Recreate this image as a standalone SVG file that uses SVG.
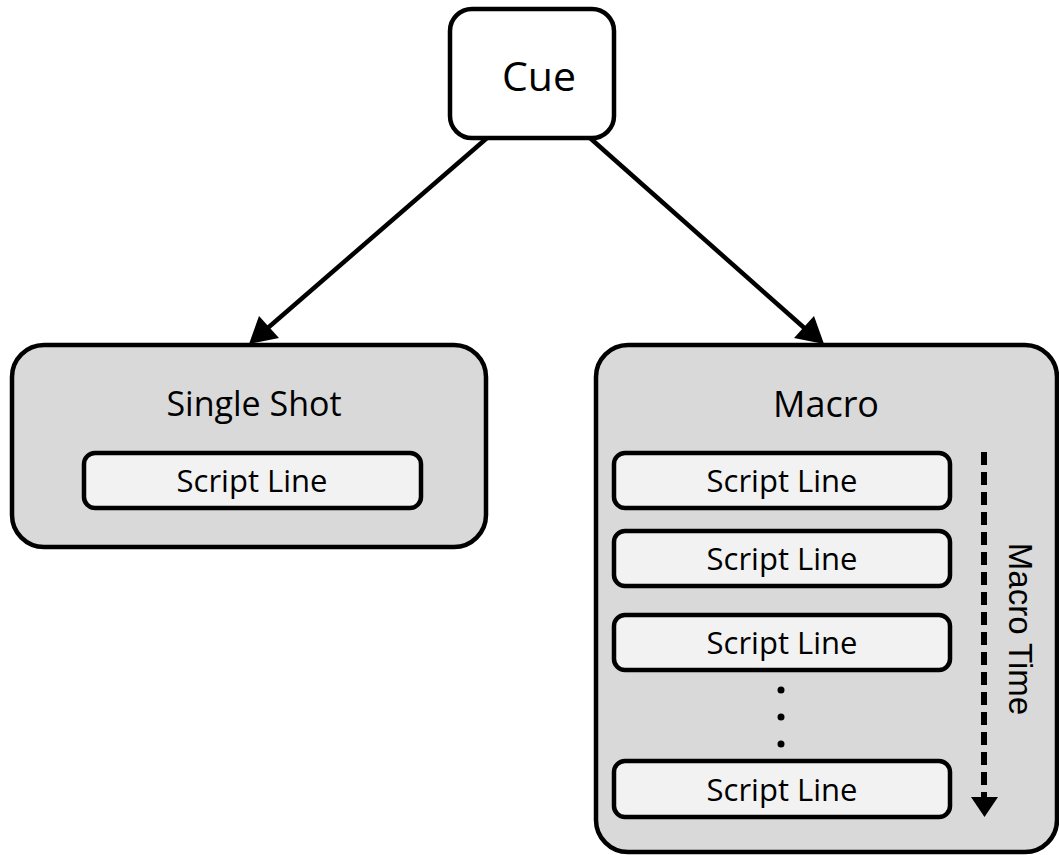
<svg xmlns="http://www.w3.org/2000/svg" width="1059" height="855" viewBox="0 0 1059 855">
<style>
.box{stroke:#000;stroke-width:4.5}
.outer{fill:#d9d9d9}
.inner{fill:#f2f2f2}
.t{font-family:"Open Sans","Noto Sans",sans-serif;fill:#000;text-anchor:middle;dominant-baseline:central}
.sl{font-size:31px}
.conn{stroke:#000;stroke-width:4.5;fill:none}
</style>
<rect width="1059" height="855" fill="#fff"/>
<g id="cue">
<rect class="box" x="450" y="9" width="164" height="129" rx="22" fill="#fff"/>
<text class="t" x="539" y="75" font-size="41">Cue</text>
</g>
<g id="single-shot">
<rect class="box outer" x="12" y="345" width="474" height="202" rx="32"/>
<text class="t" x="254" y="403" font-size="34">Single Shot</text>
<rect class="box inner" x="84" y="453" width="337" height="55" rx="11"/>
<text class="t sl" x="252" y="480">Script Line</text>
</g>
<g id="macro">
<rect class="box outer" x="596" y="345" width="461" height="507" rx="32"/>
<text class="t" x="826" y="403" font-size="36">Macro</text>
<rect class="box inner" x="614" y="453" width="336" height="55" rx="11"/>
<text class="t sl" x="782" y="480">Script Line</text>
<rect class="box inner" x="614" y="531" width="336" height="55" rx="11"/>
<text class="t sl" x="782" y="558">Script Line</text>
<rect class="box inner" x="614" y="615" width="336" height="55" rx="11"/>
<text class="t sl" x="782" y="642">Script Line</text>
<circle cx="781" cy="690" r="3.5" fill="#000"/>
<circle cx="781" cy="717" r="3.5" fill="#000"/>
<circle cx="781" cy="744" r="3.5" fill="#000"/>
<rect class="box inner" x="614" y="761" width="336" height="56" rx="11"/>
<text class="t sl" x="782" y="789">Script Line</text>
</g>
<g id="macro-time">
<line x1="984" y1="452" x2="984" y2="800" stroke="#000" stroke-width="6" stroke-dasharray="13,7"/>
<path d="M971,797 L998,797 L984.5,817 z" fill="#000"/>
<text x="1020" y="629" transform="rotate(90 1020 629)" font-family="'Liberation Sans',Arial,sans-serif" font-size="33" text-anchor="middle" dominant-baseline="central">Macro Time</text>
</g>
<g id="connectors">
<line class="conn" x1="487" y1="138" x2="262" y2="333"/>
<path d="M249,344 L259,316 L279,338 z" fill="#000"/>
<line class="conn" x1="590" y1="138" x2="810" y2="333"/>
<path d="M824,344 L794,338 L814,316 z" fill="#000"/>
</g>
</svg>
